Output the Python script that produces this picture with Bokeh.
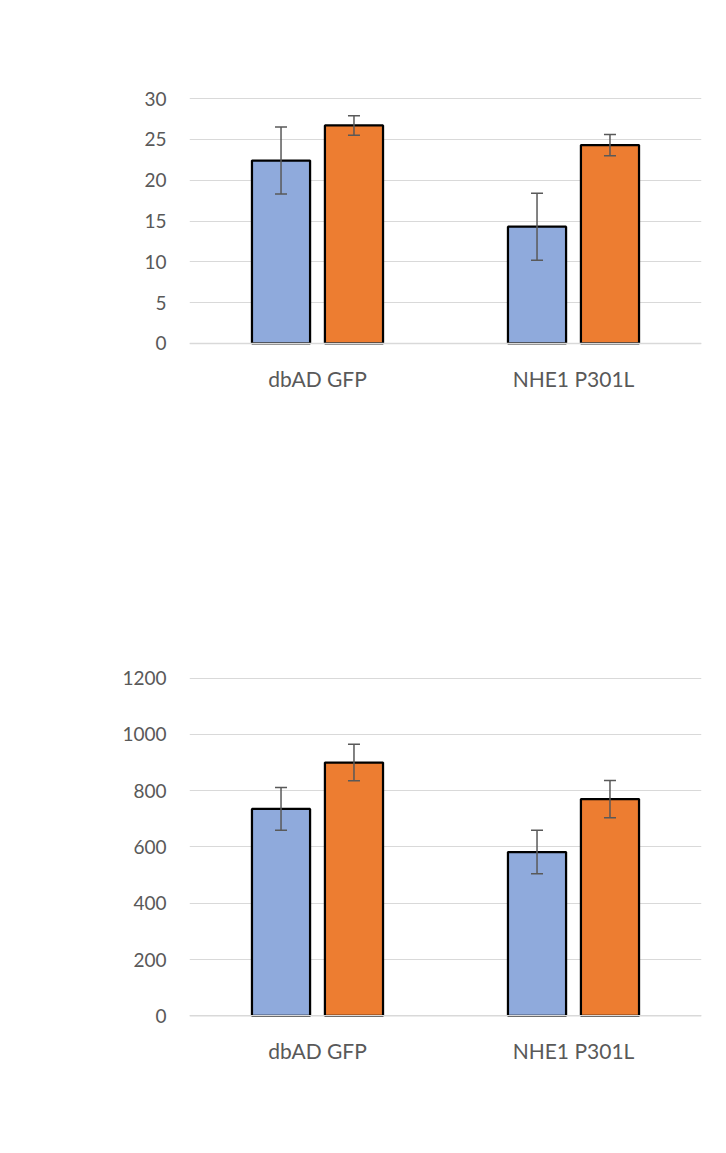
import math
from bokeh.plotting import figure
from bokeh.models import (Range1d, FactorRange, Label, BoxAnnotation, Legend,
                          LegendItem, Span, FixedTicker, ColumnDataSource)
from bokeh.transform import dodge
from bokeh.layouts import column
from bokeh.embed import file_html
from bokeh.resources import INLINE

# ---------------- data ----------------
groups = ["dbAD GFP", "NHE1 P301L"]
series = ["2wk", "4wk"]

a_title = "Phosphorylated Tau"
a_ylabel = "Protein Concentration (pg/mL)"
a_2wk = [22.4, 14.3]
a_2wk_err = [4.1, 4.1]
a_4wk = [26.7, 24.3]
a_4wk_err = [1.2, 1.3]
a_ticks = [0, 5, 10, 15, 20, 25, 30]

b_title = "Total Tau"
b_ylabel = "Protein Concetration (pg/mL)"
b_2wk = [735, 582]
b_2wk_err = [76, 77]
b_4wk = [900, 770]
b_4wk_err = [65, 66]
b_ticks = [0, 200, 400, 600, 800, 1000, 1200]

BLUE = "#8FAADC"
ORANGE = "#ED7D31"
GRID = "#D9D9D9"
TXT = "#595959"
FONT = "Lato"


def panel(title, ylabel, letter, v2, e2, v4, e4, ticks, yr, height,
          mb_left, mb_right, mb_top, mb_bottom, pos):
    p = figure(width=710, height=height, x_range=FactorRange(*groups),
               y_range=Range1d(*yr), output_backend="svg", toolbar_location=None,
               min_border_left=mb_left, min_border_right=mb_right,
               min_border_top=mb_top, min_border_bottom=mb_bottom)
    p.outline_line_color = None
    p.background_fill_color = None
    p.border_fill_color = None

    src = ColumnDataSource(dict(
        cat=groups, v2=v2, v4=v4,
        up2=[a + b for a, b in zip(v2, e2)], lo2=[a - b for a, b in zip(v2, e2)],
        up4=[a + b for a, b in zip(v4, e4)], lo4=[a - b for a, b in zip(v4, e4)],
    ))
    off = 0.1425
    bw = 0.227
    x2 = dodge("cat", -off, range=p.x_range)
    x4 = dodge("cat", off, range=p.x_range)
    r2 = p.vbar(x=x2, top="v2", bottom=0, width=bw, source=src,
                fill_color=BLUE, line_color="black", line_width=2.25)
    r4 = p.vbar(x=x4, top="v4", bottom=0, width=bw, source=src,
                fill_color=ORANGE, line_color="black", line_width=2.25)
    p.add_layout(Span(location=0, dimension="width", line_color=GRID,
                      line_width=1.5, level="overlay"))
    for xx, up, lo in ((x2, "up2", "lo2"), (x4, "up4", "lo4")):
        p.segment(x0=xx, y0=lo, x1=xx, y1=up, source=src,
                  line_color=TXT, line_width=1.5)
        p.scatter(x=xx, y=up, source=src, marker="dash", size=12,
                  line_color=TXT, line_width=1.5)
        p.scatter(x=xx, y=lo, source=src, marker="dash", size=12,
                  line_color=TXT, line_width=1.5)

    p.xgrid.grid_line_color = None
    p.ygrid.ticker = FixedTicker(ticks=ticks)
    p.ygrid.grid_line_color = GRID
    p.ygrid.grid_line_width = 1.2

    p.yaxis.ticker = FixedTicker(ticks=ticks)
    for ax in (p.xaxis, p.yaxis):
        ax.axis_line_color = None
        ax.major_tick_line_color = None
        ax.minor_tick_line_color = None
        ax.major_tick_out = 0
        ax.major_tick_in = 0
        ax.major_label_text_font = FONT
        ax.major_label_text_color = TXT
    p.yaxis.major_label_text_font_size = "19px"
    p.yaxis.major_label_standoff = 23
    p.xaxis.major_label_text_font_size = "21px"
    p.xaxis.major_label_standoff = 20

    # chart area box
    p.add_layout(BoxAnnotation(left=pos["box"][0], right=3000,
                               top=pos["box"][1], bottom=pos["box"][2],
                               left_units="screen", right_units="screen",
                               top_units="screen", bottom_units="screen",
                               fill_color=None, line_color=GRID, line_width=1.5,
                               level="underlay"))
    p.add_layout(Label(x=pos["title"][0], y=pos["title"][1], x_units="screen",
                       y_units="screen", text=title, text_align="center",
                       text_baseline="alphabetic", text_font=FONT,
                       text_font_size="32px", text_color=TXT))
    p.add_layout(Label(x=pos["ylab"][0], y=pos["ylab"][1], x_units="screen",
                       y_units="screen", text=ylabel, angle=math.pi / 2,
                       text_align="center", text_baseline="middle",
                       text_font=FONT, text_font_size="24px", text_color=TXT))
    p.add_layout(Label(x=pos["letter"][0], y=pos["letter"][1], x_units="screen",
                       y_units="screen", text=letter, text_align="left",
                       text_baseline="alphabetic", text_font="Liberation Sans",
                       text_font_size="30px", text_color="black"))

    legend = Legend(items=[LegendItem(label=series[0], renderers=[r2]),
                           LegendItem(label=series[1], renderers=[r4])],
                    orientation="horizontal", location=pos["legend"],
                    glyph_width=12, glyph_height=12, label_standoff=6,
                    spacing=15, padding=0, margin=0, border_line_color=None,
                    background_fill_alpha=0, label_text_font=FONT,
                    label_text_font_size="21px", label_text_color=TXT)
    p.add_layout(legend)
    return p


pa = panel(a_title, a_ylabel, "A.", a_2wk, a_2wk_err, a_4wk, a_4wk_err, a_ticks,
           (-0.245, 30.245), 545, 173, 9, 96, 200,
           dict(box=(-120, 344.5, -121), title=(219, 291.7), ylab=(-68, 72.5),
                letter=(-167, -123.7), legend=(157, -95.5)))

pb = panel(b_title, b_ylabel, "B.", b_2wk, b_2wk_err, b_4wk, b_4wk_err, b_ticks,
           (-6.04, 1205.7), 592, 189, 0, 131, 120,
           dict(box=(-146, 437.7, -118), title=(202, 381.7), ylab=(-94, 170),
                letter=(-192, -119), legend=(140, -94.5)))

layout = column(pa, pb, spacing=0)
open("out.html", "w").write(file_html(layout, INLINE))
